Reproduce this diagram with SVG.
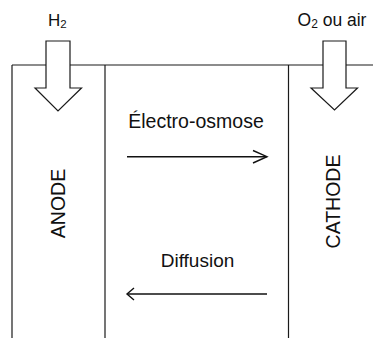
<svg xmlns="http://www.w3.org/2000/svg" width="373" height="338" viewBox="0 0 373 338">
<style>
.ln{stroke:#1a1a1a;stroke-width:1.2;fill:none}
.big{fill:#fff;stroke:#1a1a1a;stroke-width:1.2}
.t{font-family:"Liberation Sans",Arial,sans-serif;fill:#111}
.ar{stroke:#111;stroke-width:1.4;fill:none}
</style>
<rect width="373" height="338" fill="#fff"/>
<g id="cell" class="ln">
<line x1="12" y1="65" x2="373" y2="65"/>
<line x1="12" y1="65" x2="12" y2="338"/>
<line x1="105" y1="65" x2="105" y2="338"/>
<line x1="288.5" y1="65" x2="288.5" y2="338"/>
</g>
<g id="h2-feed">
<path class="big" d="M46 41 H70 V88 H81.5 L58 111 L35 88 H46 Z"/>
<text class="t" x="48" y="26" font-size="17">H<tspan font-size="11.5" dy="2">2</tspan></text>
</g>
<g id="o2-feed">
<path class="big" d="M323 41 H346 V88 H357.5 L334.5 110 L311 88 H323 Z"/>
<text class="t" x="297.5" y="26" font-size="17.5">O<tspan font-size="12" dy="2">2</tspan><tspan dy="-2"> ou air</tspan></text>
</g>
<g id="anode">
<text class="t" font-size="19.5" text-anchor="middle" transform="translate(65,203.5) rotate(-90)">ANODE</text>
</g>
<g id="cathode">
<text class="t" font-size="19.5" text-anchor="middle" transform="translate(339.5,201.5) rotate(-90)">CATHODE</text>
</g>
<g id="connectors">
<g id="electro-osmose">
<line class="ar" x1="127" y1="156.7" x2="266.5" y2="156.7"/>
<path class="ar" d="M253 150.5 L267 156.7 L253 163"/>
<text class="t" x="196" y="128" font-size="19.5" text-anchor="middle">Électro-osmose</text>
</g>
<g id="diffusion">
<line class="ar" x1="127.5" y1="294" x2="267" y2="294"/>
<path class="ar" d="M134 288 L127 294 L134 300"/>
<text class="t" x="197.5" y="266.5" font-size="19" text-anchor="middle">Diffusion</text>
</g>
</g>
</svg>
